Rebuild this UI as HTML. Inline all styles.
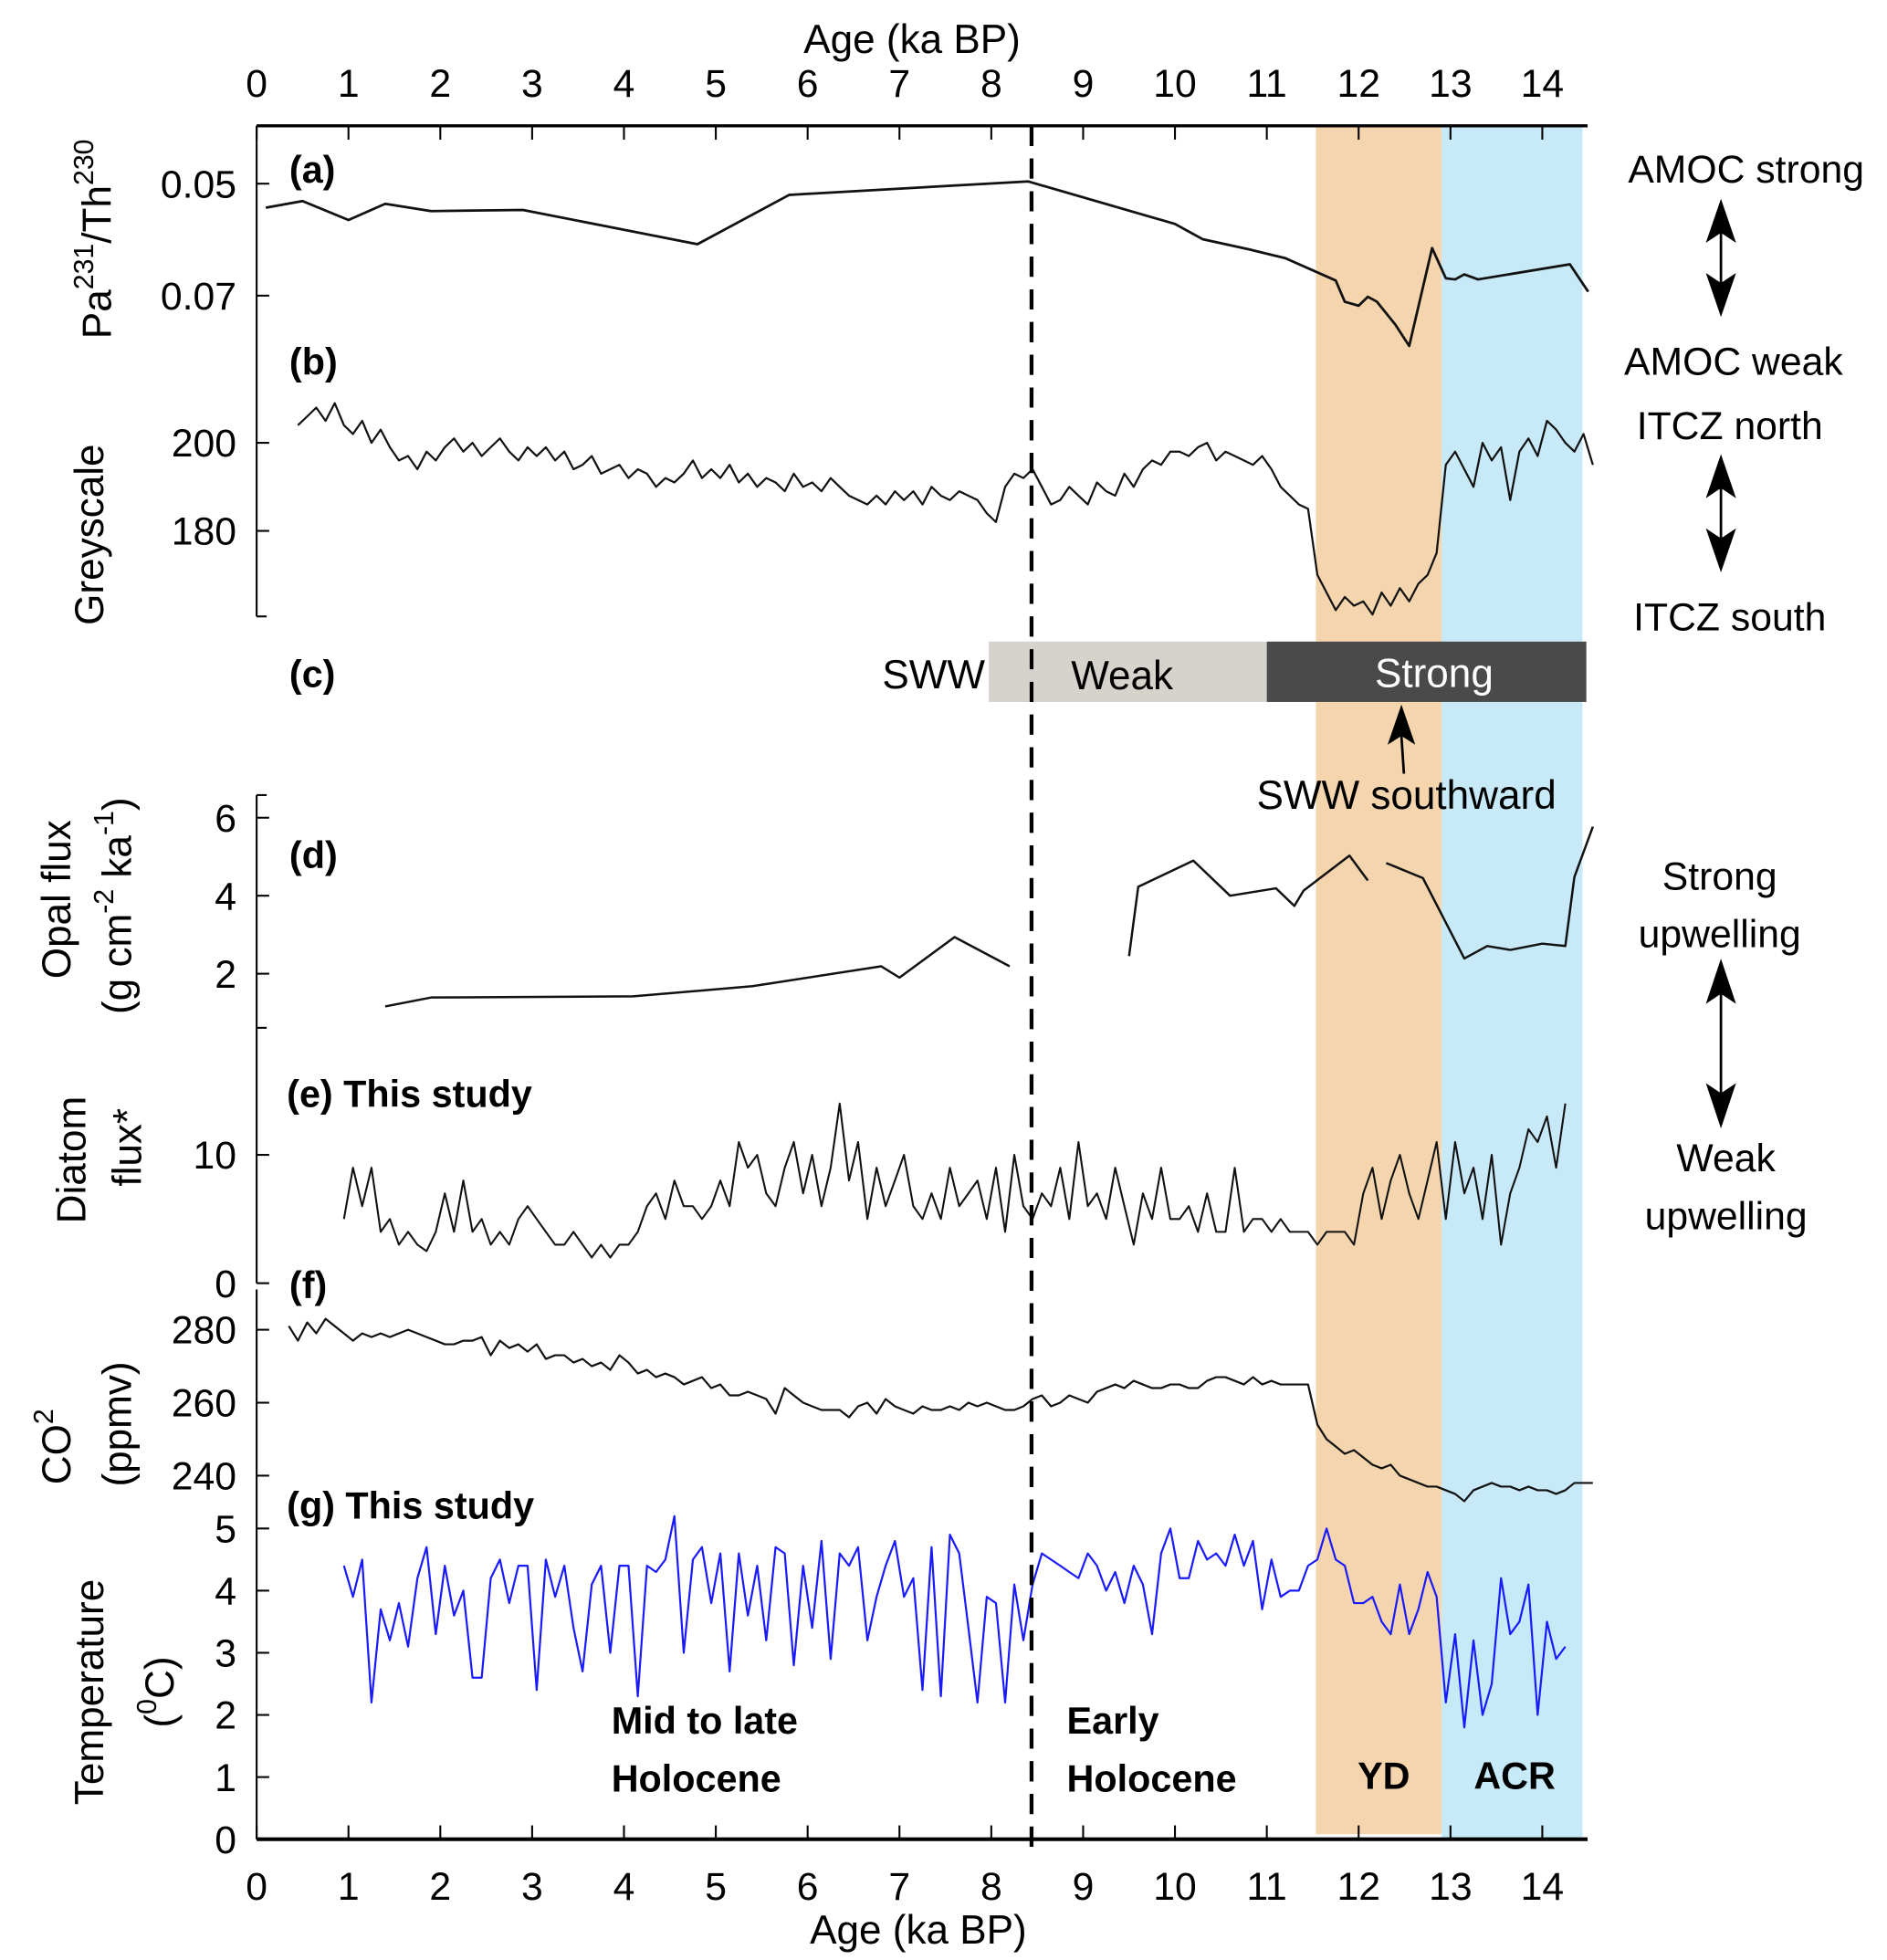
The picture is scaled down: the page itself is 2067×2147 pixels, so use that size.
<!DOCTYPE html>
<html><head><meta charset="utf-8"><style>
html,body{margin:0;padding:0;background:#fff;}
svg{display:block;font-family:"Liberation Sans",Arial,sans-serif;}
</style></head><body>
<svg id="chart" width="2067" height="2147" viewBox="0 0 1500 1558" preserveAspectRatio="none" xmlns="http://www.w3.org/2000/svg">
<rect x="1046" y="100" width="100" height="1358" fill="#f5d5ae"/>
<rect x="1146" y="100" width="112" height="1362" fill="#c7e9f8"/>
<g id="marks"></g>
<line x1="820" y1="100" x2="820" y2="1476" stroke="#000" stroke-width="3" stroke-dasharray="16,10"/>
<g>
<rect x="786" y="510" width="221" height="48" fill="#d6d2cc"/>
<rect x="1007" y="510" width="254" height="48" fill="#4a4a4a"/>
<text x="783" y="547" font-size="32" text-anchor="end">SWW</text>
<text x="892" y="548" font-size="32" text-anchor="middle">Weak</text>
<text x="1140" y="546" font-size="32" text-anchor="middle" fill="#fff">Strong</text>
<line x1="1116" y1="615" x2="1114" y2="585" stroke="#000" stroke-width="2"/>
<polygon points="1114,560 1103,592 1114,585 1125,592" fill="#000"/>
<text x="1118" y="643" font-size="32" text-anchor="middle">SWW southward</text>
</g>
<line x1="820" y1="100" x2="820" y2="1476" stroke="#000" stroke-width="3" stroke-dasharray="16,10"/>
<g id="axes"></g>
<g font-size="30" font-weight="bold">
<text x="230" y="145">(a)</text>
<text x="230" y="298">(b)</text>
<text x="230" y="546">(c)</text>
<text x="230" y="690">(d)</text>
<text x="228" y="880">(e) This study</text>
<text x="230" y="1032">(f)</text>
<text x="228" y="1207">(g) This study</text>
<text x="486" y="1378">Mid to late</text>
<text x="486" y="1424">Holocene</text>
<text x="848" y="1378">Early</text>
<text x="848" y="1424">Holocene</text>
<text x="1100" y="1422" text-anchor="middle">YD</text>
<text x="1204" y="1422" text-anchor="middle">ACR</text>
</g>
<g font-size="31" text-anchor="middle">
<text x="1388" y="145">AMOC strong</text>
<text x="1378" y="298">AMOC weak</text>
<text x="1375" y="349">ITCZ north</text>
<text x="1375" y="501">ITCZ south</text>
<text x="1367" y="707">Strong</text>
<text x="1367" y="753">upwelling</text>
<text x="1372" y="931">Weak</text>
<text x="1372" y="977">upwelling</text>
<g><line x1="1368" y1="175" x2="1368" y2="235" stroke="#000" stroke-width="2"/><polygon points="1368,158 1356,193 1368,185 1380,193"/><polygon points="1368,252 1356,217 1368,225 1380,217"/></g>
<g><line x1="1368" y1="378" x2="1368" y2="438" stroke="#000" stroke-width="2"/><polygon points="1368,361 1356,396 1368,388 1380,396"/><polygon points="1368,455 1356,420 1368,428 1380,420"/></g>
<g><line x1="1368" y1="780" x2="1368" y2="880" stroke="#000" stroke-width="2"/><polygon points="1368,762 1356,798 1368,790 1380,798"/><polygon points="1368,897 1356,861 1368,869 1380,861"/></g>
</g>
</svg>
<script>
// ---- data ----
const ageTicks=[0,1,2,3,4,5,6,7,8,9,10,11,12,13,14];
const paAges=[0.1,0.5,1.0,1.4,1.9,2.9,4.8,5.8,8.4,10.0,10.3,10.8,11.2,11.6,11.75,11.85,12.0,12.1,12.2,12.4,12.55,12.8,12.95,13.05,13.15,13.3,14.3,14.5];
const paValues=[0.0543,0.0531,0.0565,0.0536,0.0549,0.0547,0.0608,0.052,0.0496,0.0572,0.0599,0.0617,0.0633,0.0662,0.0673,0.0711,0.0718,0.0702,0.0711,0.0752,0.079,0.0615,0.0669,0.0671,0.0662,0.0671,0.0644,0.0693];
const paTicks=[0.05,0.07];
const greyStart=0.45;
const greyValues=[204,206,208,205,209,204,
202,205,200,203,199,196,197,194,198,196,
199,201,198,200,197,199,201,198,196,199,
197,199,196,198,194,195,197,193,194,195,
192,194,193,190,192,191,193,196,192,194,
192,195,191,193,190,192,191,189,193,190,
191,189,192,190,188,187,186,188,186,189,
187,189,186,190,188,187,189,188,187,184,
182,190,193,192,194,190,186,187,190,188,
186,191,189,188,193,190,194,196,195,198,
198,197,199,200,196,198,197,196,195,197,
194,190,188,186,185,170,
166,162,165,163,164,161,166,163,167,164,168,170,175,195,
198,194,190,200,196,199,187,198,201,197,205,203,200,198,202,195];
const greyTicks=[180,200];
const opalAges=[1.4,1.9,4.1,5.4,6.8,7.0,7.6,8.2,null,9.5,9.6,10.2,10.6,11.1,11.3,11.4,11.9,12.1,null,12.3,12.7,13.15,13.4,13.65,14.0,14.25,14.35,14.55];
const opalValues=[1.16,1.39,1.42,1.68,2.19,1.9,2.94,2.19,null,2.45,4.23,4.9,4.0,4.19,3.74,4.13,5.03,4.39,null,4.84,4.45,2.39,2.71,2.61,2.77,2.71,4.48,5.77];
const opalTicks=[2,4,6];
const diatomStart=0.95;
const diatomValues=[5,9,6,9,4,5,3,4,3,2.5,
4,7,4,8,4,5,3,4,3,5,
6,5,4,3,3,4,3,2,3,2,
3,3,4,6,7,5,8,6,6,5,
6,8,6,11,9,10,7,6,9,11,
7,10,6,9,14,8,11,5,9,6,
8,10,6,5,7,5,9,6,7,8,
5,9,4,10,6,5,7,6,9,5,
11,6,7,5,9,6,3,7,5,9,
5,5,6,4,7,4,4,9,4,5,
5,4,5,4,4,4,3,4,4,4,
3,7,9,5,8,10,7,5,8,11,
5,11,7,9,5,10,3,7,9,12,
11,13,9,14];
const diatomTicks=[0,10];
const co2Start=0.35;
const co2Values=[281,277,282,279,283,281,279,277,279,278,
279,278,279,280,279,278,277,276,276,277,
277,278,273,277,275,276,274,276,272,273,
273,271,272,270,271,269,273,271,268,269,
267,268,267,265,266,267,264,265,262,262,
263,262,261,257,264,262,260,259,258,258,
258,256,259,260,257,261,259,258,257,259,
258,258,259,258,260,259,260,259,258,258,
259,261,262,259,260,262,261,260,263,264,
265,264,266,265,264,264,265,265,264,264,
266,267,267,266,265,267,265,266,265,265,
265,265,254,250,248,246,247,245,243,242,
243,240,239,238,237,237,236,235,233,236,
237,238,237,237,236,237,236,236,235,236,
238,238,238];
const co2Ticks=[240,260,280];
const tempStart=0.95;
const tempValues=[4.4,3.9,4.5,2.2,3.7,3.2,3.8,3.1,4.2,4.7,
3.3,4.4,3.6,4.0,2.6,2.6,4.2,4.5,3.8,4.4,
4.4,2.4,4.5,3.9,4.4,3.4,2.7,4.1,4.4,3.0,
4.4,4.4,2.3,4.4,4.3,4.5,5.2,3.0,4.5,4.7,
3.8,4.6,2.7,4.6,3.6,4.4,3.2,4.7,4.6,2.8,
4.4,3.4,4.8,2.9,4.6,4.4,4.7,3.2,3.9,4.4,
4.8,3.9,4.2,2.4,4.7,2.3,4.9,4.6,3.4,2.2,
3.9,3.8,2.2,4.1,3.2,4.1,4.6,4.5,4.4,4.3,
4.2,4.6,4.4,4.0,4.3,3.8,4.4,4.1,3.3,4.6,
5.0,4.2,4.2,4.8,4.5,4.6,4.4,4.9,4.4,4.8,
3.7,4.5,3.9,4.0,4.0,4.4,4.5,5.0,4.5,4.4,
3.8,3.8,3.9,3.5,3.3,4.1,3.3,3.7,4.3,3.9,
2.2,3.3,1.8,3.2,2.0,2.5,4.2,3.3,3.5,4.1,
2.0,3.5,2.9,3.1];
const tempTicks=[0,1,2,3,4,5];

// ---- scales ----
const X=a=>204+73*a;
const yPa=v=>146+(v-0.05)*4450;
const yGrey=v=>352+(200-v)*3.5;
const yOpal=v=>836-v*31;
const yDia=v=>1020-v*10.2;
const yCO2=v=>1057+(280-v)*2.9;
const yTemp=v=>1462-v*49.4;
const NS="http://www.w3.org/2000/svg";
const marks=document.getElementById('marks');
const axes=document.getElementById('axes');
function mk(tag,attrs,parent){const e=document.createElementNS(NS,tag);for(const k in attrs)e.setAttribute(k,attrs[k]);parent.appendChild(e);return e;}
function pathFrom(ages,vals,ys){let d='',pen=false;for(let i=0;i<vals.length;i++){if(vals[i]==null||ages[i]==null){pen=false;continue;}d+=(pen?'L':'M')+X(ages[i]).toFixed(1)+','+ys(vals[i]).toFixed(1);pen=true;}return d;}
function stepAges(start,n){const a=[];for(let i=0;i<n;i++)a.push(+(start+0.1*i).toFixed(2));return a;}
function series(name,ages,vals,ys,color,w){
  const p=mk('path',{d:pathFrom(ages,vals,ys),fill:'none',stroke:color,'stroke-width':w,'stroke-linejoin':'round'},marks);
  
  
}
series('pa-th-ratio-line',paAges,paValues,yPa,'#111',2);
series('greyscale-line',stepAges(greyStart,greyValues.length),greyValues,yGrey,'#111',1.6);
series('opal-flux-line',opalAges,opalValues,yOpal,'#111',1.8);
series('diatom-flux-line',stepAges(diatomStart,diatomValues.length),diatomValues,yDia,'#111',1.5);
series('co2-line',stepAges(co2Start,co2Values.length),co2Values,yCO2,'#111',1.6);
series('temperature-line',stepAges(tempStart,tempValues.length),tempValues,yTemp,'#1a1aff',1.6);

// ---- axes ----
mk('line',{x1:204,y1:100,x2:1262,y2:100,stroke:'#000','stroke-width':2.5},axes);
mk('line',{x1:204,y1:1462,x2:1262,y2:1462,stroke:'#000','stroke-width':3},axes);
[[100,490],[632,1020],[1025,1462]].forEach(s=>mk('line',{x1:204,y1:s[0],x2:204,y2:s[1],stroke:'#000','stroke-width':1.5},axes));
mk('line',{x1:204,y1:490,x2:212,y2:490,stroke:'#000','stroke-width':1.5},axes);
mk('line',{x1:204,y1:632,x2:212,y2:632,stroke:'#000','stroke-width':1.5},axes);
mk('line',{x1:204,y1:817,x2:212,y2:817,stroke:'#000','stroke-width':1.5},axes);
ageTicks.forEach(a=>{
  mk('line',{x1:X(a),y1:100,x2:X(a),y2:111,stroke:'#000','stroke-width':1.5},axes);
  mk('line',{x1:X(a),y1:1462,x2:X(a),y2:1451,stroke:'#000','stroke-width':1.5},axes);
  const t=mk('text',{x:X(a),y:77,'font-size':31,'text-anchor':'middle'},axes);t.textContent=a;
  
  
  const b=mk('text',{x:X(a),y:1510,'font-size':31,'text-anchor':'middle'},axes);b.textContent=a;
  
  
});
function yticks(ticks,ys,fmt,name){ticks.forEach(v=>{const y=ys(v);
  mk('line',{x1:204,y1:y,x2:214,y2:y,stroke:'#000','stroke-width':1.5},axes);
  const t=mk('text',{x:188,y:y+11,'font-size':31,'text-anchor':'end'},axes);t.textContent=fmt(v);
  
  });}
yticks(paTicks,yPa,v=>v.toFixed(2),'pa-y-tick-label');
yticks(greyTicks,yGrey,v=>v,'greyscale-y-tick-label');
yticks(opalTicks,yOpal,v=>v,'opal-y-tick-label');
yticks(diatomTicks,yDia,v=>v,'diatom-y-tick-label');
yticks(co2Ticks,yCO2,v=>v,'co2-y-tick-label');
yticks(tempTicks,yTemp,v=>v,'temperature-y-tick-label');
</script>
<svg width="0" height="0" style="position:absolute"></svg>
<script>
(function(){
const svg=document.getElementById('chart');const NS="http://www.w3.org/2000/svg";
function lab(name,x,y,html,size){const t=document.createElementNS(NS,'text');


t.setAttribute('transform','translate('+x+','+y+') rotate(-90)');t.setAttribute('text-anchor','middle');t.setAttribute('font-size',size||32);t.innerHTML=html;svg.appendChild(t);}
const top=document.createElementNS(NS,'text');


top.setAttribute('x',725);top.setAttribute('y',42);top.setAttribute('text-anchor','middle');top.setAttribute('font-size',32);top.textContent='Age (ka BP)';svg.appendChild(top);
const bot=document.createElementNS(NS,'text');


bot.setAttribute('x',730);bot.setAttribute('y',1545);bot.setAttribute('text-anchor','middle');bot.setAttribute('font-size',32);bot.textContent='Age (ka BP)';svg.appendChild(bot);
lab('pa-th-y-axis-title',88,190,'Pa<tspan font-size="22" dy="-14">231</tspan><tspan dy="14">/Th</tspan><tspan font-size="22" dy="-14">230</tspan>');
lab('greyscale-y-axis-title',82,425,'Greyscale');
lab('opal-y-axis-title-1',56,715,'Opal flux');
lab('opal-y-axis-title-2',104,720,'(g cm<tspan font-size="22" dy="-14">-2</tspan><tspan dy="14"> ka</tspan><tspan font-size="22" dy="-14">-1</tspan><tspan dy="14">)</tspan>');
lab('diatom-y-axis-title-1',68,922,'Diatom');
lab('diatom-y-axis-title-2',112,912,'flux*');
lab('co2-y-axis-title-1',56,1150,'CO<tspan font-size="22" dy="-14">2</tspan>');
lab('co2-y-axis-title-2',104,1132,'(ppmv)');
lab('temperature-y-axis-title-1',82,1345,'Temperature');
lab('temperature-y-axis-title-2',138,1345,'(<tspan font-size="22" dy="-14">0</tspan><tspan dy="14">C)</tspan>');
})();
</script>
</body></html>
